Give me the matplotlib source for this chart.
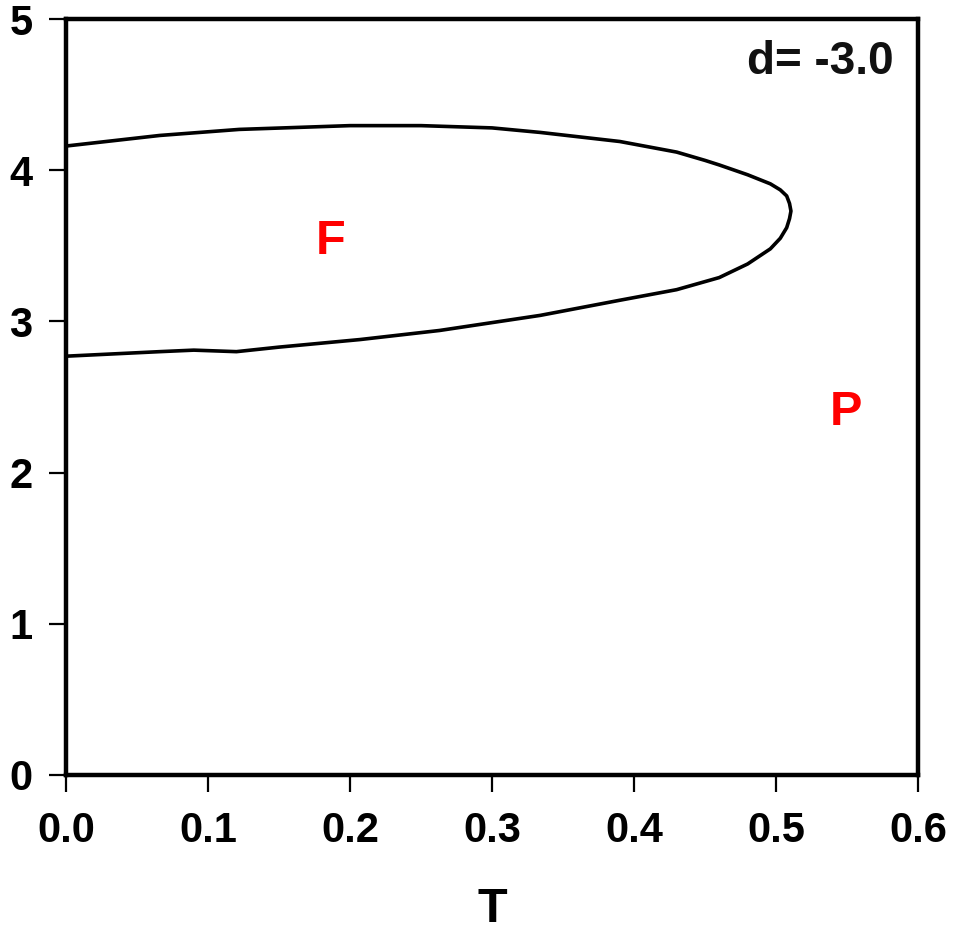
import matplotlib
matplotlib.use("Agg")
import matplotlib.pyplot as plt


# phase boundary, upper branch (left to right) then lower branch (right to left)
T_UPPER = [0.0, 0.066, 0.122, 0.2, 0.25, 0.30, 0.334, 0.39, 0.43, 0.45, 0.46, 0.48, 0.496,
           0.503, 0.5075, 0.5095, 0.5105]
D_UPPER = [4.16, 4.23, 4.27, 4.295, 4.295, 4.28, 4.25, 4.19, 4.12, 4.065, 4.035, 3.97, 3.91,
           3.87, 3.83, 3.78, 3.73]
T_LOWER = [0.5095, 0.5075, 0.503, 0.496, 0.48, 0.46, 0.43, 0.39, 0.334, 0.263, 0.207,
           0.15, 0.12, 0.09, 0.066, 0.0]
D_LOWER = [3.68, 3.62, 3.55, 3.48, 3.38, 3.29, 3.21, 3.14, 3.04, 2.94, 2.88,
           2.83, 2.80, 2.81, 2.80, 2.77]

X_TICKS = [0.0, 0.1, 0.2, 0.3, 0.4, 0.5, 0.6]
X_TICK_LABELS = ["0.0", "0.1", "0.2", "0.3", "0.4", "0.5", "0.6"]
Y_TICKS = [0, 1, 2, 3, 4, 5]

PHASE_LABELS = [("F", 0.1863, 3.53), ("P", 0.549, 2.40)]
ANNOTATION = "d= -3.0"


def setup_style() -> None:
    plt.rcParams.update(
        {
            "font.family": ["Liberation Sans", "DejaVu Sans"],
            "font.weight": "bold",
            "font.size": 30,
        }
    )


def main() -> None:
    setup_style()
    fig = plt.figure(figsize=(9.55, 9.38), dpi=100)
    ax = fig.add_axes([0.0691, 0.1738, 0.8922, 0.8059])

    ax.plot(T_UPPER + T_LOWER, D_UPPER + D_LOWER, color="black", linewidth=2.6,
            solid_joinstyle="round")

    for label, x, y in PHASE_LABELS:
        ax.text(x, y, label, color="#ff0000", fontsize=35, fontweight="bold",
                ha="center", va="center")

    ax.text(0.583, 4.86, ANNOTATION, color="#111111", fontsize=33, fontweight="bold",
            ha="right", va="top")

    ax.set_xlim(0, 0.6)
    ax.set_ylim(0, 5)
    ax.set_xticks(X_TICKS, labels=X_TICK_LABELS)
    ax.set_yticks(Y_TICKS)
    ax.tick_params(direction="out", length=12, width=1.6, labelsize=30, pad=14)
    ax.tick_params(axis="y", pad=12)
    for spine in ax.spines.values():
        spine.set_linewidth(3.2)

    ax.set_xlabel("T", fontsize=35, fontweight="bold", labelpad=26)

    fig.savefig("out.png", dpi=100)
    plt.close(fig)


if __name__ == "__main__":
    main()
